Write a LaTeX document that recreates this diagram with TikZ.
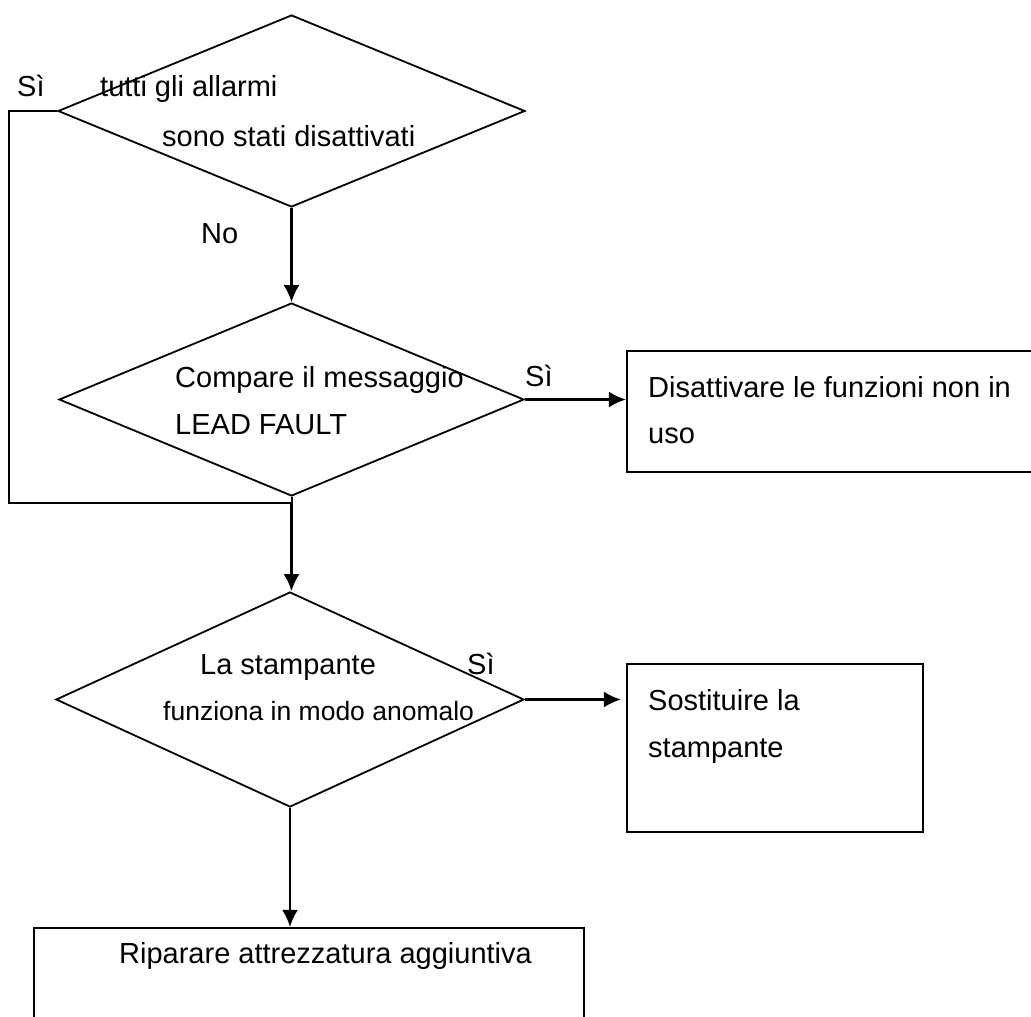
\documentclass[tikz,border=0pt]{standalone}
\usepackage{fontspec}
\setmainfont{Liberation Sans}
\usetikzlibrary{shapes.geometric,arrows.meta}
\tikzset{
  dec/.style={diamond,draw,line width=1.8pt,inner sep=0pt,minimum width=#1},
  boxnode/.style={rectangle,draw,line width=2.2pt,inner sep=0pt},
  lbl/.style={anchor=base west,inner sep=0pt,font=\fontsize{29}{35}\selectfont},
  lblsmall/.style={anchor=base west,inner sep=0pt,font=\fontsize{26.5}{32}\selectfont},
  conn/.style={line width=2.3pt,-{Latex[length=17pt,width=16pt]}},
  plainline/.style={line width=2pt}
}
\begin{document}
\begin{tikzpicture}[x=1pt,y=-1pt]
\useasboundingbox (0,0) rectangle (1031,1017);
\clip (0,0) rectangle (1031,1017);
% decisions
\node[dec=467pt,minimum height=192pt] (d1) at (291.5,111) {};
\node[dec=465pt,minimum height=193pt] (d2) at (291.5,399.5) {};
\node[dec=468pt,minimum height=215pt] (d3) at (290,699.5) {};
% boxes
\node[boxnode,minimum width=414pt,minimum height=121pt] (b1) at (834,411.5) {};
\node[boxnode,minimum width=296pt,minimum height=168pt] (b2) at (775,748) {};
\node[boxnode,minimum width=550pt,minimum height=110pt] (b3) at (309,983) {};
% helper coordinates
\coordinate (L) at (9,112);
\coordinate (j) at (291.5,503);
% connectors
\draw[plainline] (d1.west) -- (d1.west -| L) |- (j);
\draw[conn] (d1.south) -- (d2.north);
\draw[plainline] (d2.south) -- (j);
\draw[conn] (j) -- (j |- d3.north);
\draw[conn] (d2.east) -- (d2.east -| b1.west);
\draw[conn,shorten >=5pt] (d3.east) -- (d3.east -| b2.west);
\draw[conn] (d3.south) -- (d3.south |- b3.north);
% labels
\node[lbl] (t1) at (17,96) {Sì};
\node[lbl] (t2) at (100,96) {tutti gli allarmi};
\node[lbl] (t3) at (162,146) {sono stati disattivati};
\node[lbl] (t4) at (201,243) {No};
\node[lbl] (t5) at (175,387) {Compare il messaggio};
\node[lbl] (t6) at (175,434) {LEAD FAULT};
\node[lbl] (t7) at (525,386) {Sì};
\node[lbl] (t8) at (648,397) {Disattivare le funzioni non in};
\node[lbl] (t9) at (648,443) {uso};
\node[lbl] (t10) at (200,674) {La stampante};
\node[lbl] (t11) at (467,674) {Sì};
\node[lblsmall] (t12) at (163,720) {funziona in modo anomalo};
\node[lbl] (t13) at (648,710) {Sostituire la};
\node[lbl] (t14) at (648,757) {stampante};
\node[lbl] (t15) at (119,963) {Riparare attrezzatura aggiuntiva};
\end{tikzpicture}
\end{document}
